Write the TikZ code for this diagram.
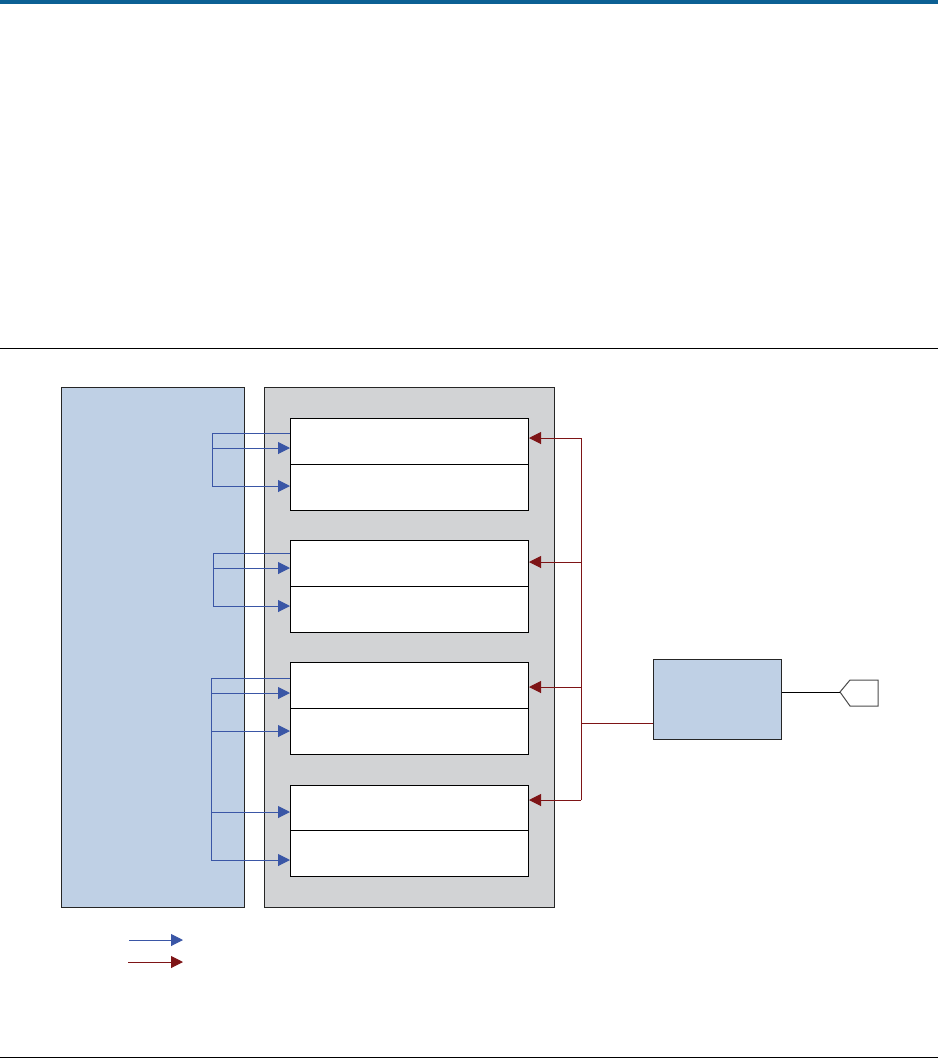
\documentclass[tikz,border=0pt]{standalone}
\usetikzlibrary{arrows.meta}
\definecolor{topblue}{RGB}{12,96,148}
\definecolor{panelblue}{RGB}{191,208,229}
\definecolor{panelgray}{RGB}{210,211,213}
\definecolor{sigblue}{RGB}{58,86,166}
\definecolor{sigred}{RGB}{126,20,22}
\begin{document}
\begin{tikzpicture}[x=1pt,y=-1pt,
  panel/.style={draw=black!85,line width=0.9pt,anchor=north west,inner sep=0pt,minimum width=#1},
  cell/.style={draw=black,fill=white,line width=1pt,anchor=north west,inner sep=0pt,minimum width=238pt,minimum height=45.5pt},
  barrow/.style={sigblue,line width=1pt,-{Triangle[length=12pt,width=12pt]}},
  bline/.style={sigblue,line width=1pt},
  rarrow/.style={sigred,line width=1pt,-{Triangle[length=12pt,width=12pt]}},
  rline/.style={sigred,line width=1pt}]
\useasboundingbox (0,0) rectangle (938,1061);
% page rules
\fill[topblue] (0,0) rectangle (938,3.5);
\draw[black,line width=1pt] (0,348) -- (938,348);
\draw[black,line width=1pt] (0,1057) -- (938,1057);
% panels
\node[panel=183pt,fill=panelblue,minimum height=520pt] (left) at (61,387) {};
\node[panel=290pt,fill=panelgray,minimum height=520pt] (mid) at (264,387) {};
% cells
\node[cell] (a1) at (290,418) {};
\node[cell] (a2) at (290,464) {};
\node[cell] (b1) at (290,540) {};
\node[cell] (b2) at (290,586) {};
\node[cell] (c1) at (290,662) {};
\node[cell] (c2) at (290,708) {};
\node[cell] (d1) at (290,785) {};
\node[cell] (d2) at (290,830) {};
% right block
\node[panel=128pt,fill=panelblue,minimum height=80pt] (blk) at (653,659) {};
% connector tag
\coordinate (tag) at (840,692);
\draw[black!70,line width=1pt,fill=white] (tag) -- (850,680) -- (878,680) -- (878,706) -- (850,706) -- cycle;
\draw[black,line width=1pt] (blk.east |- 0,692) -- (tag);
% blue group 1
\coordinate (ba) at (212,433);
\draw[bline] (a1.west |- ba) -- (ba) -- (212,486);
\draw[barrow] (212,448) -- (a1.west |- 0,448);
\draw[barrow] (212,486) -- (a2.west |- 0,486);
% blue group 2
\coordinate (bb) at (213,553);
\draw[bline] (b1.west |- bb) -- (bb) -- (213,606);
\draw[barrow] (213,568) -- (b1.west |- 0,568);
\draw[barrow] (213,606) -- (b2.west |- 0,606);
% blue group 3/4
\coordinate (bc) at (211,678);
\draw[bline] (c1.west |- bc) -- (bc) -- (211,860);
\draw[barrow] (211,693) -- (c1.west |- 0,693);
\draw[barrow] (211,731) -- (c2.west |- 0,731);
\draw[barrow] (211,812) -- (d1.west |- 0,812);
\draw[barrow] (211,860) -- (d2.west |- 0,860);
% red bus
\coordinate (rt) at (581,438);
\coordinate (rb) at (581,800);
\draw[rline] (rt) -- (rb);
\draw[rline] (581,723) -- (blk.west |- 0,723);
\draw[rarrow] (rt) -- (a1.east |- rt);
\draw[rarrow] (581,562) -- (b1.east |- 0,562);
\draw[rarrow] (581,687) -- (c1.east |- 0,687);
\draw[rarrow] (rb) -- (d1.east |- rb);
% legend
\coordinate (l1) at (129,940);
\coordinate (l1e) at (183,940);
\coordinate (l2) at (128,962);
\coordinate (l2e) at (183,962);
\draw[barrow] (l1) -- (l1e);
\draw[rarrow] (l2) -- (l2e);
\end{tikzpicture}
\end{document}
